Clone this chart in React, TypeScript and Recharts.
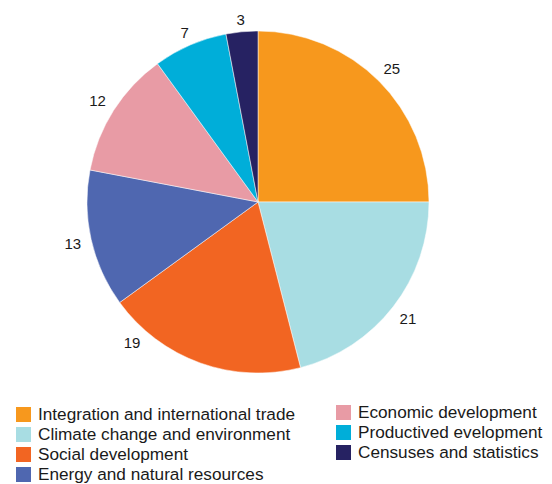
import React from "react";
import { PieChart, Pie, Cell, Legend } from "recharts";

const categories = [
  "Integration and international trade",
  "Climate change and environment",
  "Social development",
  "Energy and natural resources",
  "Economic development",
  "Productived evelopment",
  "Censuses and statistics",
];
const values = [25, 21, 19, 13, 12, 7, 3];
const colors = ["#F7981D", "#A8DDE3", "#F26522", "#4F67B0", "#E89BA5", "#00AED9", "#262262"];

const data = categories.map((name, i) => ({ name, value: values[i] }));

const RADIAN = Math.PI / 180;
const FONT = "Liberation Sans, Arial, sans-serif";
// the "19" label sits off its slice centre in the original (kept clear of the legend)
const labelAngleNudge: Record<number, number> = { 2: -22 };

const renderLabel = (props: any) => {
  const { cx, cy, midAngle, outerRadius, value, index } = props;
  const a = (midAngle + (labelAngleNudge[index] ?? 0)) * RADIAN;
  const w = String(value).length * 11;
  const h = 10;
  const r = outerRadius + 7 + Math.abs(Math.sin(a)) * h / 2 + Math.abs(Math.cos(a)) * w / 2;
  const x = cx + r * Math.cos(-a);
  const y = cy + r * Math.sin(-a);
  return (
    <text x={x} y={y} fill="#1a1a1a" fontSize={15} fontFamily={FONT} textAnchor="middle" dominantBaseline="central">
      {value}
    </text>
  );
};

const LegendContent = () => {
  const item = (i: number) => (
    <div key={i} style={{ display: "flex", alignItems: "center", height: 20 }}>
      <span style={{ width: 15, height: 15, background: colors[i], marginRight: 7, flexShrink: 0 }} />
      <span style={{ fontSize: 17.2, color: "#1a1a1a", fontFamily: FONT, whiteSpace: "nowrap" }}>{categories[i]}</span>
    </div>
  );
  return (
    <div style={{ position: "relative", width: 552, height: 90 }}>
      <div style={{ position: "absolute", left: 16, top: 0 }}>{[0, 1, 2, 3].map(item)}</div>
      <div style={{ position: "absolute", left: 336, top: -2 }}>{[4, 5, 6].map(item)}</div>
    </div>
  );
};

export default function App() {
  return (
    <div style={{ position: "absolute", left: 0, top: 0, background: "#fff" }}>
      <PieChart width={552} height={484} margin={{ top: 0, right: 0, bottom: 0, left: 0 }}>
        <Pie
          data={data}
          dataKey="value"
          nameKey="name"
          cx={258}
          cy={202}
          outerRadius={171}
          startAngle={90}
          endAngle={-270}
          stroke="#fff"
          strokeWidth={0.5}
          label={renderLabel}
          labelLine={false}
          isAnimationActive={false}
        >
          {data.map((d, i) => (
            <Cell key={d.name} fill={colors[i]} />
          ))}
        </Pie>
        <Legend
          content={<LegendContent />}
          wrapperStyle={{ position: "absolute", left: 0, top: 404, width: 552 }}
        />
      </PieChart>
    </div>
  );
}
